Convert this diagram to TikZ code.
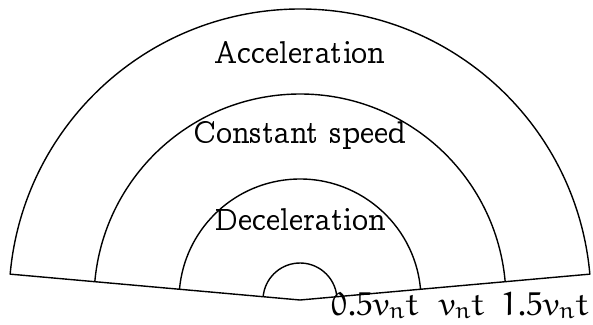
\documentclass[tikz,border=0pt]{standalone}
\usepackage[OT1]{fontenc}
\renewcommand\rmdefault{ccr}
\IfFileExists{euler.sty}{\usepackage{euler}}{}
\usetikzlibrary{calc}
\newcommand\bigtxt[1]{\scalebox{1.27}{\fontsize{24.88}{30}\selectfont #1}}
\tikzset{
  arcline/.style={line width=1.4pt, line join=round},
  lbl/.style={anchor=base, inner sep=0pt},
  vlbl/.style={anchor=base, inner sep=0pt, font=\fontsize{33}{38}\selectfont},
}
\begin{document}
\begin{tikzpicture}[x=1pt,y=1pt]
\useasboundingbox (0,0) rectangle (593,-324);
\coordinate (C) at (300,-300);
\def\ang{5.1}
% outer sector
\draw[arcline] (C) -- ($(C)+(\ang:291)$) arc[start angle=\ang, end angle=180-\ang, radius=291] -- cycle;
% inner arcs
\draw[arcline] ($(C)+(\ang:206)$) arc[start angle=\ang, end angle=180-\ang, radius=206];
\draw[arcline] ($(C)+(\ang:121)$) arc[start angle=\ang, end angle=180-\ang, radius=121];
\draw[arcline] ($(C)+(\ang:37)$) arc[start angle=\ang, end angle=180-\ang, radius=37];
% labels
\node[lbl] (acc) at (300,-63) {\bigtxt{Acceleration}};
\node[lbl] (cst) at (300,-143) {\bigtxt{Constant speed}};
\node[lbl] (dec) at (300,-230) {\bigtxt{Deceleration}};
\node[vlbl] (l1) at (375,-315) {$0.5v_nt$};
\node[vlbl] (l2) at (462,-315) {$v_nt$};
\node[vlbl] (l3) at (545,-315) {$1.5v_nt$};
\end{tikzpicture}
\end{document}
